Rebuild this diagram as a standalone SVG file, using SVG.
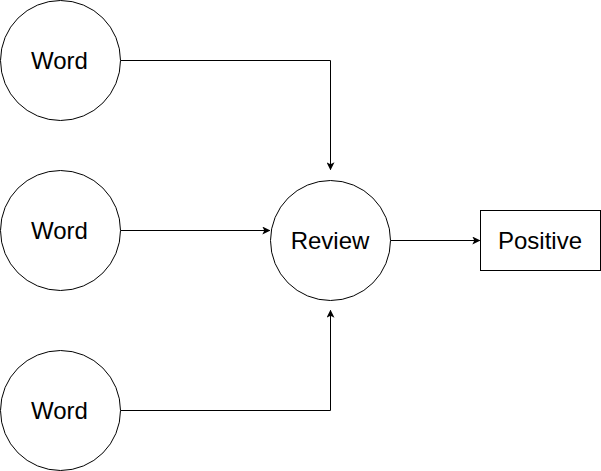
<svg xmlns="http://www.w3.org/2000/svg" width="601" height="471" viewBox="0 0 601 471">
<style>
.n{fill:#fff;stroke:#000;stroke-width:1}
.t{font-family:"Liberation Sans",Arial,sans-serif;font-size:24px;fill:#000;text-anchor:middle}
.c{fill:none;stroke:#000;stroke-width:1}
</style>
<defs>
<marker id="a" viewBox="0 0 10 10" refX="9" refY="5" markerWidth="8" markerHeight="8" markerUnits="userSpaceOnUse" orient="auto">
<path d="M0,0 L10,5 L0,10 L2.5,5 Z" fill="#000"/>
</marker>
</defs>
<rect width="601" height="471" fill="#fff"/>
<g id="connectors">
<path class="c" d="M120.5,60.5 H330.5 V169.5" marker-end="url(#a)"/>
<path class="c" d="M120.5,230.5 H269.5" marker-end="url(#a)"/>
<path class="c" d="M120.5,410.5 H330.5 V310.5" marker-end="url(#a)"/>
<path class="c" d="M390.5,240.5 H479.5" marker-end="url(#a)"/>
</g>
<g id="word1"><circle class="n" cx="60.5" cy="60.5" r="60"/><text class="t" x="59.5" y="68.5">Word</text></g>
<g id="word2"><circle class="n" cx="60.5" cy="230.5" r="60"/><text class="t" x="59.5" y="238.5">Word</text></g>
<g id="word3"><circle class="n" cx="60.5" cy="410.5" r="60"/><text class="t" x="59.5" y="418.5">Word</text></g>
<g id="review"><circle class="n" cx="330.5" cy="240.5" r="60"/><text class="t" x="330" y="248.5">Review</text></g>
<g id="positive"><rect class="n" x="480.5" y="210.5" width="120" height="60"/><text class="t" x="540" y="248.5">Positive</text></g>
</svg>
